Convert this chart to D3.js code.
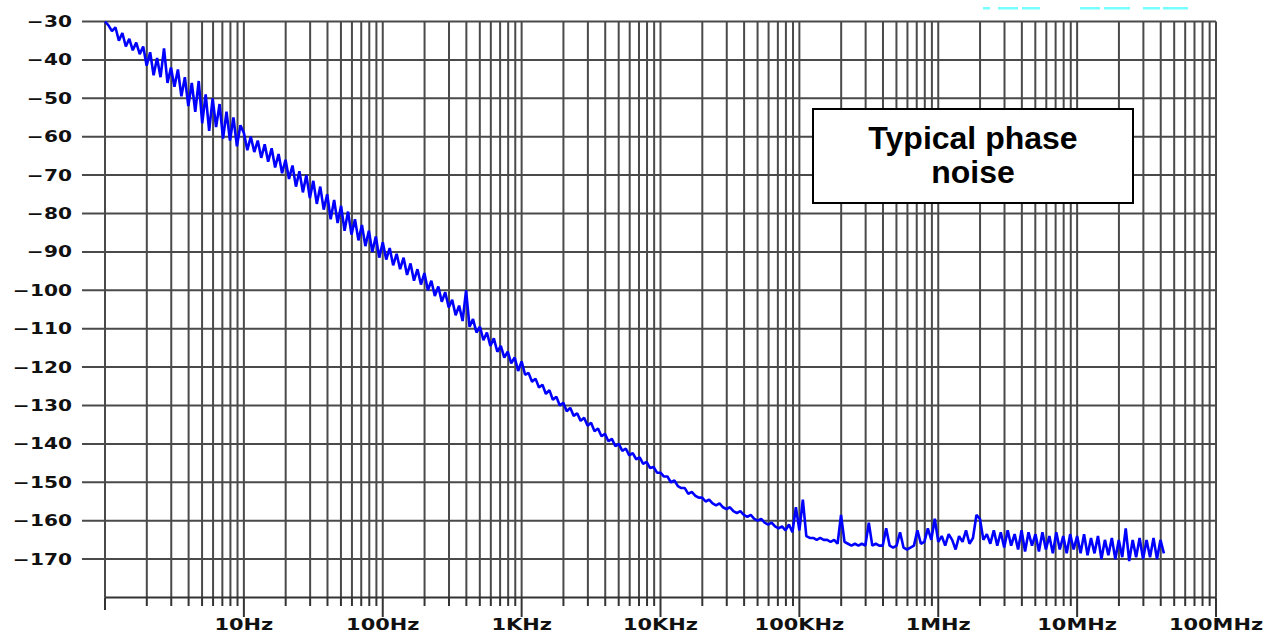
<!DOCTYPE html>
<html>
<head>
<meta charset="utf-8">
<script src="https://cdn.jsdelivr.net/npm/d3@7/dist/d3.min.js"></script>
<style>
  body { margin: 0; background: #fff; }
  svg { display: block; }
</style>
</head>
<body>
<div id="chart"></div>
<script>
// sweep: 40 log-spaced points per decade, values in dBc/Hz
var pointsPerDecade = 40;
var decadeStarts = [1, 10, 100, 1e3, 1e4, 1e5, 1e6, 1e7];

var noise1Hz = [-30, -31, -32.5, -31.5, -35, -33, -36.5, -34.5, -37.5, -35.5,
  -38.5, -36.5, -41.5, -38, -44, -39.5, -44.5, -37, -46, -42,
  -47, -42.5, -49.5, -44.5, -52, -46, -53.5, -45.5, -56.5, -49,
  -58.5, -50, -57.5, -51.5, -60.5, -53.5, -61, -55, -62.5, -57];
var noise10Hz = [-59, -63.5, -60, -64, -61, -65.5, -62, -66.5, -63, -68,
  -64.5, -69.5, -66, -71, -67.5, -73, -69, -74.5, -70, -76,
  -71.5, -77.5, -73, -79, -75, -81.5, -76.5, -82.5, -78, -84.5,
  -79.5, -85.5, -81.5, -87, -83, -88.5, -84.5, -90, -86, -91.5];
var noise100Hz = [-87.5, -92, -89, -93.5, -90.5, -94.5, -91.5, -96, -93, -97.5,
  -94.5, -98.5, -95.5, -100, -97.5, -101.5, -99, -103, -100.5, -104.5,
  -102.5, -106.5, -104, -108, -100, -109.5, -107.5, -111, -109.5, -113,
  -111, -114.5, -112.5, -116, -114.5, -117.5, -116, -119, -117.5, -121];
var noise1kHz = [-118.5, -122, -121.5, -123.8, -123, -125.3, -124.6, -127, -126, -128.5,
  -127.7, -130, -129.3, -131.5, -130.6, -132.7, -132, -134, -133.2, -135.3,
  -134.5, -136.7, -136, -138, -137.4, -139.3, -138.7, -140.6, -140, -141.8,
  -141.2, -143, -142.4, -144, -143.5, -145.2, -144.7, -146.3, -146, -147.5];
var noise10kHz = [-147.5, -148.5, -148.5, -150, -149.5, -151, -151.5, -151.5, -153, -152.5,
  -153.5, -154, -154, -155, -154.5, -155.5, -156, -155.5, -156.5, -157,
  -156.5, -157.5, -158, -157.5, -158.5, -159, -158.5, -159.5, -160, -159.5,
  -160.5, -161, -160.5, -161.5, -162, -161.5, -162.5, -161, -163, -156.5];
var noise100kHz = [-162.5, -154.5, -164, -164.5, -164.5, -165, -164.5, -165, -165, -165.5,
  -165, -166, -158.5, -165.5, -166, -166.5, -166, -166.5, -166, -166.5,
  -160.5, -166.5, -166, -166.5, -166.5, -162, -166.5, -167, -166.5, -163,
  -167, -167.5, -167, -166.5, -162.5, -166, -165.5, -162, -165, -159.5];
var noise1MHz = [-165.5, -164, -166.5, -163.5, -165, -167.5, -164, -165.5, -162.5, -166,
  -164.5, -158.5, -159.5, -165, -163.5, -166, -162.5, -166.5, -163, -167,
  -162.5, -166.5, -163.5, -167.5, -162.5, -168, -163, -166.5, -163.5, -168,
  -163, -167.5, -164, -168.5, -163, -167.5, -164, -168.5, -163.5, -167.5];
var noise10MHz = [-164, -168.5, -163.5, -169, -164.5, -168.5, -164, -170, -165, -169,
  -164.5, -170, -165, -169.5, -162, -170.5, -165, -169.5, -164.5, -170,
  -165, -169.5, -164.5, -170, -165, -168.5];

var decades = [noise1Hz, noise10Hz, noise100Hz, noise1kHz, noise10kHz, noise100kHz, noise1MHz, noise10MHz];

var yTicks = [-30, -40, -50, -60, -70, -80, -90, -100, -110, -120, -130, -140, -150, -160, -170];
var xTickValues = [10, 100, 1e3, 1e4, 1e5, 1e6, 1e7, 1e8];
var xTickLabels = ['10Hz', '100Hz', '1KHz', '10KHz', '100KHz', '1MHz', '10MHz', '100MHz'];
var noteLines = ['Typical phase', 'noise'];

var width = 1274,
    height = 632,
    gridColor = '#4a4a4a',
    labelFont = '"DejaVu Sans", Verdana, sans-serif';

var svg = d3.select('#chart').append('svg')
    .attr('width', width)
    .attr('height', height);

svg.append('rect').attr('width', width).attr('height', height).attr('fill', '#fff');

var x = d3.scaleLog().domain([1, 1e8]).range([105, 1216]);
var y = d3.scaleLinear().domain([-180, -30]).range([597.5, 21.5]);

// grid frequencies 1..9 in every decade, plus the 100MHz edge
var gridFreqs = [];
decadeStarts.forEach(function(s) {
  d3.range(1, 10).forEach(function(m) { gridFreqs.push(s * m); });
});
gridFreqs.push(1e8);

// horizontal grid, sticking out left as the y ticks
svg.append('g').selectAll('line')
    .data(yTicks)
    .enter()
    .append('line')
    .attr('x1', 82)
    .attr('x2', x(1e8))
    .attr('y1', function(d) { return y(d); })
    .attr('y2', function(d) { return y(d); })
    .attr('stroke', gridColor)
    .attr('stroke-width', 2);

// vertical grid
svg.append('g').selectAll('line')
    .data(gridFreqs)
    .enter()
    .append('line')
    .attr('x1', function(d) { return x(d); })
    .attr('x2', function(d) { return x(d); })
    .attr('y1', y(-30))
    .attr('y2', y(-180))
    .attr('stroke', gridColor)
    .attr('stroke-width', 2);

// bottom axis line + ticks
svg.append('line')
    .attr('x1', x(1)).attr('x2', x(1e8))
    .attr('y1', y(-180)).attr('y2', y(-180))
    .attr('stroke', '#333')
    .attr('stroke-width', 2);

svg.append('g').selectAll('line')
    .data(gridFreqs)
    .enter()
    .append('line')
    .attr('x1', function(d) { return x(d); })
    .attr('x2', function(d) { return x(d); })
    .attr('y1', y(-180))
    .attr('y2', function(d) {
      if (d === 1) return 610;
      return xTickValues.indexOf(d) >= 0 ? 617 : 606;
    })
    .attr('stroke', '#333')
    .attr('stroke-width', 2);

// y labels, the original font is wide so stretch it
svg.append('g').selectAll('g')
    .data(yTicks)
    .enter()
    .append('g')
    .attr('transform', function(d) { return 'translate(72,' + y(d) + ')'; })
    .append('text')
    .attr('transform', 'scale(1.3,1)')
    .attr('text-anchor', 'end')
    .attr('dy', '0.36em')
    .attr('font-family', labelFont)
    .attr('font-weight', 'bold')
    .attr('font-size', 15.5)
    .attr('fill', '#111')
    .text(function(d) { return String(d).replace('-', '\u2212'); });

// x labels
svg.append('g').selectAll('g')
    .data(xTickValues)
    .enter()
    .append('g')
    .attr('transform', function(d) { return 'translate(' + x(d) + ',630)'; })
    .append('text')
    .attr('transform', 'scale(1.35,1)')
    .attr('text-anchor', 'middle')
    .attr('font-family', labelFont)
    .attr('font-weight', 'bold')
    .attr('font-size', 15.5)
    .attr('fill', '#111')
    .text(function(d, i) { return xTickLabels[i]; });

// the trace
var points = [];
decades.forEach(function(vals, d) {
  vals.forEach(function(v, i) {
    points.push([decadeStarts[d] * Math.pow(10, i / pointsPerDecade), v]);
  });
});

var line = d3.line()
    .x(function(d) { return x(d[0]); })
    .y(function(d) { return y(d[1]); });

svg.append('path')
    .datum(points)
    .attr('d', line)
    .attr('fill', 'none')
    .attr('stroke', '#0000ff')
    .attr('stroke-width', 2.6)
    .attr('stroke-linejoin', 'bevel');

// annotation box
svg.append('rect')
    .attr('x', 813).attr('y', 109)
    .attr('width', 320).attr('height', 94)
    .attr('fill', '#fff')
    .attr('stroke', '#000')
    .attr('stroke-width', 2);

svg.append('g').selectAll('text')
    .data(noteLines)
    .enter()
    .append('text')
    .attr('x', 973)
    .attr('y', function(d, i) { return 149 + i * 34; })
    .attr('text-anchor', 'middle')
    .attr('font-family', '"Liberation Sans", Arial, sans-serif')
    .attr('font-weight', 'bold')
    .attr('font-size', 32)
    .attr('fill', '#000')
    .text(function(d) { return d; });

// faint cyan scraps at the top edge (cut-off legend remains)
var scraps = [[983, 990], [998, 1018], [1022, 1040], [1080, 1100], [1104, 1130], [1143, 1160], [1163, 1188]];
svg.append('g').selectAll('rect')
    .data(scraps)
    .enter()
    .append('rect')
    .attr('x', function(d) { return d[0]; })
    .attr('width', function(d) { return d[1] - d[0]; })
    .attr('y', 7)
    .attr('height', 2.5)
    .attr('fill', '#7ff');
</script>
</body>
</html>
